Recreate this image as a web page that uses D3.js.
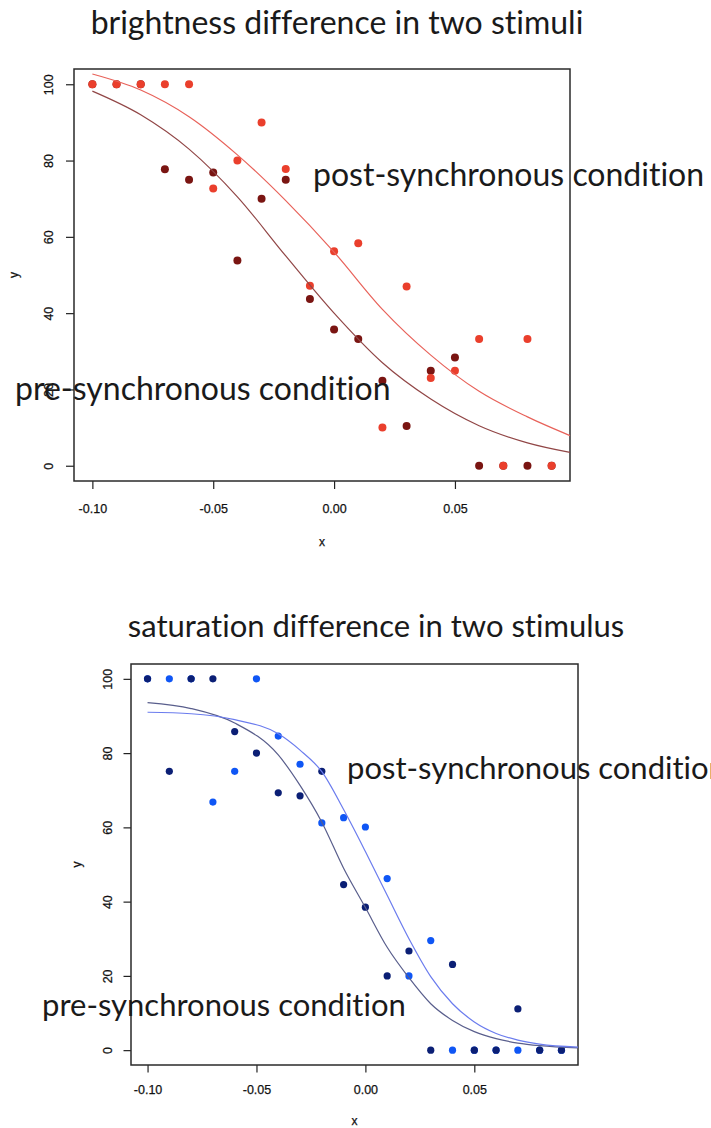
<!DOCTYPE html>
<html>
<head>
<meta charset="utf-8">
<script src="https://cdnjs.cloudflare.com/ajax/libs/d3/7.8.5/d3.min.js"></script>
<style>
  body { margin: 0; background: #fff; }
  .tick text { font-family: "Liberation Sans", Arial, sans-serif; font-size: 12.5px; fill: #111; stroke: #111; stroke-width: 0.25px; }
  .big { font-family: Lato, "Open Sans", sans-serif; fill: #1a1a1a; font-variant-ligatures: none; font-feature-settings: "liga" 0; }
  .lab { font-family: "Liberation Sans", Arial, sans-serif; font-size: 12px; fill: #111; stroke: #111; stroke-width: 0.25px; }
</style>
</head>
<body>
<svg id="chart" width="711" height="1128"></svg>
<script>
// x values shared by both experiments
var xValues = [-0.10, -0.09, -0.08, -0.07, -0.06, -0.05, -0.04, -0.03, -0.02, -0.01,
               0.00, 0.01, 0.02, 0.03, 0.04, 0.05, 0.06, 0.07, 0.08, 0.09];

// brightness: measured points
var brightPre  = [100, 100, 100, 77.7, 75, 76.9, 53.8, 70, 75, 43.7,
                  35.7, 33.2, 22.3, 10.4, 24.9, 28.4, 0, 0, 0, 0];
var brightPost = [100, 100, 100, 100, 100, 72.7, 80, 90, 77.8, 47.2,
                  56.2, 58.3, 10, 47, 23, 24.9, 33.2, 0, 33.2, 0];

// brightness: fitted curves
var brightFitX    = [-0.10, -0.08, -0.06, -0.04, -0.02, 0.00, 0.02, 0.04, 0.06, 0.08, 0.0976];
var brightPreFit  = [98.2, 92, 83, 70.5, 55, 40, 27, 17.5, 10.5, 6, 3.5];
var brightPostFit = [102.7, 98.5, 91.5, 81.5, 69.5, 56, 41, 29, 19.5, 12.8, 7.9];

// saturation: measured points
var satPre  = [100, 75.1, 100, 100, 85.8, 80, 69.3, 68.5, 75.1, 44.6,
               38.5, 20, 26.7, 0, 23.1, 0, 0, 11.1, 0, 0];
var satPost = [100, 100, 100, 66.8, 75.1, 100, 84.6, 77, 61.2, 62.6,
               60.1, 46.2, 20, 29.5, 0, 0, 0, 0, 0, 0];

// saturation: fitted curves
var satFitX    = [-0.10, -0.08, -0.06, -0.04, -0.03, -0.02, -0.01, 0.00, 0.01, 0.02,
                  0.03, 0.04, 0.05, 0.06, 0.07, 0.08, 0.0976];
var satPreFit  = [93.6, 92, 88.1, 79.5, 71.3, 61.4, 49, 38.4, 27.7, 19.5,
                  12.5, 8, 5, 3.1, 1.9, 1.2, 0.6];
var satPostFit = [91, 90.6, 89, 85.2, 80.8, 75, 64.8, 53.5, 41.7, 30,
                  19.8, 12.5, 7.6, 4.5, 2.7, 1.6, 0.8];

var xTicks = [-0.10, -0.05, 0.00, 0.05];
var yTicks = [0, 20, 40, 60, 80, 100];

var svg = d3.select("#chart");

function panel(p) {
  var x = d3.scaleLinear().domain([-0.1076, 0.0976]).range([p.left, p.right]);
  var y = d3.scaleLinear().domain([-4, 104]).range([p.bottom, p.top]);
  var g = svg.append("g");

  // axes, R style: ticks outside the box
  var ax = g.append("g")
    .attr("transform", "translate(0," + p.bottom + ")")
    .call(d3.axisBottom(x).tickValues(xTicks).tickSize(p.tick).tickSizeOuter(0)
      .tickFormat(function(d) { return d.toFixed(2); }));
  ax.select(".domain").remove();
  ax.selectAll("line").attr("stroke", "#222").attr("stroke-width", 1.2);
  ax.selectAll("text").attr("y", p.xLabOff).attr("dy", 0);

  var ay = g.append("g")
    .attr("transform", "translate(" + p.left + ",0)")
    .call(d3.axisLeft(y).tickValues(yTicks).tickSize(p.tick).tickSizeOuter(0));
  ay.select(".domain").remove();
  ay.selectAll("line").attr("stroke", "#222").attr("stroke-width", 1.2);
  ay.selectAll("text")
    .attr("transform", "rotate(-90)")
    .attr("x", 0)
    .attr("y", -p.yLabOff)
    .attr("dy", 0)
    .style("text-anchor", "middle");

  // box
  g.append("rect")
    .attr("x", p.left).attr("y", p.top)
    .attr("width", p.right - p.left).attr("height", p.bottom - p.top)
    .attr("fill", "none").attr("stroke", "#2a2a2a").attr("stroke-width", 1.5);

  g.append("text").attr("class", "lab")
    .attr("x", (p.left + p.right) / 2).attr("y", p.xTitleY)
    .attr("text-anchor", "middle").text("x");
  g.append("text").attr("class", "lab")
    .attr("transform", "translate(" + p.yTitleX + "," + (p.top + p.bottom) / 2 + ") rotate(-90)")
    .attr("text-anchor", "middle").text("y");

  // points, in drawing order
  p.series.forEach(function(s) {
    g.append("g").selectAll("circle")
      .data(s.values)
      .enter().append("circle")
      .attr("cx", function(d, i) { return x(xValues[i]); })
      .attr("cy", function(d) { return y(d); })
      .attr("r", p.r)
      .attr("fill", s.color);
  });

  // fitted curves
  var line = d3.line()
    .x(function(d) { return x(d[0]); })
    .y(function(d) { return y(d[1]); })
    .curve(d3.curveMonotoneX);
  p.fits.forEach(function(f) {
    g.append("path")
      .datum(p.fitX.map(function(v, i) { return [v, f.values[i]]; }))
      .attr("d", line)
      .attr("fill", "none")
      .attr("stroke", f.color)
      .attr("stroke-width", 1.2);
  });

  // title and condition labels
  g.append("text").attr("class", "big")
    .attr("x", p.titleX).attr("y", p.titleY)
    .attr("text-anchor", "middle").style("font-size", p.titleSize + "px")
    .text(p.title);
  g.append("text").attr("class", "big")
    .attr("x", p.postX).attr("y", p.postY)
    .style("font-size", p.labSize + "px")
    .text("post-synchronous condition");
  g.append("text").attr("class", "big")
    .attr("x", p.preX).attr("y", p.preY)
    .style("font-size", p.labSize + "px")
    .text("pre-synchronous condition");
}

panel({
  left: 74, right: 570, top: 69, bottom: 481, tick: 8, r: 4,
  xLabOff: 31.5, yLabOff: 21.5, xTitleY: 546, yTitleX: 18,
  series: [{values: brightPre, color: "#7a1512"}, {values: brightPost, color: "#ea3f2c"}],
  fitX: brightFitX,
  fits: [{values: brightPreFit, color: "#914646"}, {values: brightPostFit, color: "#e8625a"}],
  title: "brightness difference in two stimuli", titleX: 337, titleY: 34, titleSize: 32,
  postX: 313, postY: 186, preX: 15, preY: 400, labSize: 32
});

panel({
  left: 131, right: 578, top: 664, bottom: 1065, tick: 7.5, r: 3.6,
  xLabOff: 28.5, yLabOff: 19.5, xTitleY: 1125, yTitleX: 81,
  series: [{values: satPost, color: "#0f56f5"}, {values: satPre, color: "#0b1f75"}],
  fitX: satFitX,
  fits: [{values: satPreFit, color: "#595e8c"}, {values: satPostFit, color: "#6b7cee"}],
  title: "saturation difference in two stimulus", titleX: 376, titleY: 637, titleSize: 31,
  postX: 347, postY: 779, preX: 42, preY: 1016, labSize: 31
});
</script>
</body>
</html>
